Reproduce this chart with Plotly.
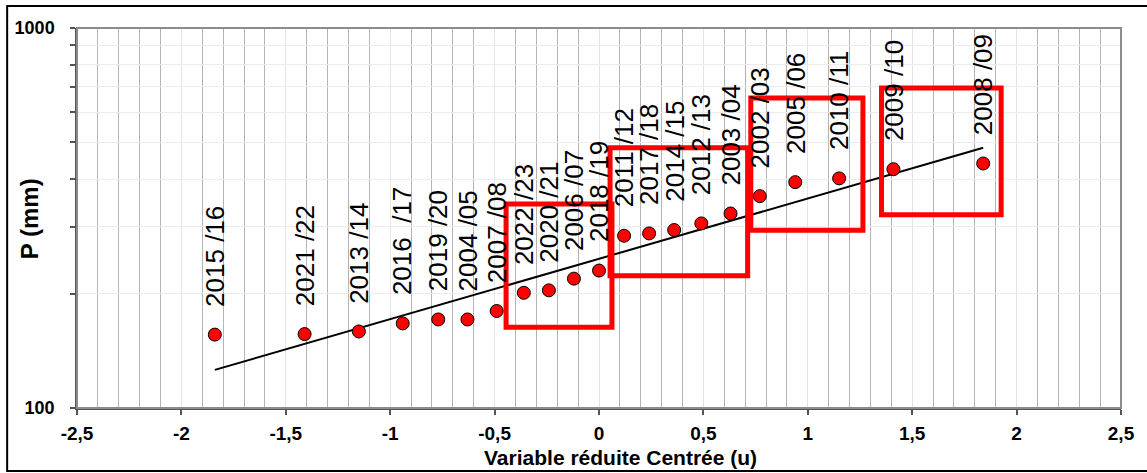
import numpy as np
import plotly.graph_objects as go

# ---- data ----
years = ["2015 /16", "2021 /22", "2013 /14", "2016 \u00a0/17", "2019 /20", "2004 /05", "2007 /08",
         "2022 /23", "2020 /21", "2006 /07", "2018 /19", "2011 /12", "2017 /18", "2014 /15",
         "2012 /13", "2003 /04", "2002 /03", "2005 /06", "2010 /11", "2009 /10", "2008 /09"]
u_vals = [-1.84, -1.41, -1.15, -0.94, -0.77, -0.63, -0.49, -0.36, -0.24, -0.12, 0.0,
          0.12, 0.24, 0.36, 0.49, 0.63, 0.77, 0.94, 1.15, 1.41, 1.84]
p_vals = [156, 156.5, 159, 167, 171, 171, 180, 201, 204, 219, 230,
          284, 288, 294, 306, 325, 361, 393, 402, 425, 440]

fit_u = [-1.84, 1.84]
fit_p = [126, 484]

rect_u0 = [-0.445, 0.053, 0.727, 1.353]
rect_u1 = [0.062, 0.712, 1.264, 1.926]
rect_p0 = [163, 222.7, 293.6, 322.6]
rect_p1 = [344, 484, 654, 695]

x_ticks = [-2.5, -2, -1.5, -1, -0.5, 0, 0.5, 1, 1.5, 2, 2.5]
x_ticktext = ["-2,5", "-2", "-1,5", "-1", "-0,5", "0", "0,5", "1", "1,5", "2", "2,5"]
y_ticks = [100, 200, 300, 400, 500, 600, 700, 800, 900, 1000]
y_ticktext = ["100", "", "", "", "", "", "", "", "", "1000"]

FONT = "Liberation Sans, Arial, sans-serif"

fig = go.Figure()
fig.add_trace(go.Scatter(x=fit_u, y=fit_p, mode="lines",
                         line=dict(color="black", width=2), hoverinfo="skip"))
fig.add_trace(go.Scatter(x=u_vals, y=p_vals, mode="markers",
                         marker=dict(size=13, color="#ff0000",
                                     line=dict(color="black", width=1))))

# rotated year labels
for xu, yp, t in zip(u_vals, p_vals, years):
    fig.add_annotation(x=xu, y=np.log10(yp), xref="x", yref="y", text=t,
                       textangle=-90, showarrow=False, xanchor="center",
                       yanchor="bottom", yshift=26,
                       font=dict(family=FONT, size=26, color="black"))

# red rectangles
for a, b, c, d in zip(rect_u0, rect_u1, rect_p0, rect_p1):
    fig.add_shape(type="rect", xref="x", yref="y", x0=a, x1=b,
                  y0=c, y1=d,
                  line=dict(color="#ff0000", width=5), layer="above")

# plot frame (top / right)
fig.add_shape(type="rect", xref="paper", yref="paper", x0=0, x1=1, y0=0, y1=1,
              line=dict(color="#8c8c8c", width=2), layer="above")
# outer border
fig.add_shape(type="rect", xref="paper", yref="paper",
              x0=-0.0669, x1=1.03, y0=-0.1658, y1=1.0579,
              line=dict(color="black", width=2), layer="above")

# axis titles
fig.add_annotation(x=0.521, y=-0.129, xref="paper", yref="paper",
                   text="<b>Variable réduite Centrée (u)</b>", showarrow=False,
                   xanchor="center", yanchor="middle",
                   font=dict(family=FONT, size=21, color="black"))
fig.add_annotation(x=-0.0459, y=0.497, xref="paper", yref="paper",
                   text="<b>P (mm)</b>", showarrow=False, textangle=-90,
                   xanchor="center", yanchor="middle",
                   font=dict(family=FONT, size=24, color="black"))

fig.update_xaxes(range=[-2.5, 2.5], tickvals=x_ticks, ticktext=x_ticktext,
                 showgrid=True, gridcolor="#e4e4e4", gridwidth=1,
                 minor=dict(dtick=0.1, showgrid=True, gridcolor="#b4b4b4",
                            gridwidth=1, ticks=""),
                 ticks="outside", ticklen=5, tickcolor="#555555", tickwidth=1.5,
                 showline=True, linecolor="#555555", linewidth=1.5,
                 zeroline=False, ticklabelstandoff=2,
                 tickfont=dict(family=FONT, size=19, color="black", weight="bold"))
fig.update_yaxes(type="log", range=[2, 3], tickvals=y_ticks, ticktext=y_ticktext,
                 showgrid=True, gridcolor="#ececec", gridwidth=1,
                 ticks="outside", ticklen=5, tickcolor="#555555", tickwidth=1.5,
                 showline=True, linecolor="#555555", linewidth=1.5,
                 zeroline=False, ticklabelstandoff=12,
                 tickfont=dict(family=FONT, size=18, color="black", weight="bold"))

fig.update_layout(width=1147, height=473,
                  margin=dict(l=77, r=24, t=28, b=65),
                  paper_bgcolor="white", plot_bgcolor="white",
                  showlegend=False)

fig.write_html("out.html", config={"displayModeBar": False},
               post_script="document.body.style.margin='0';")
